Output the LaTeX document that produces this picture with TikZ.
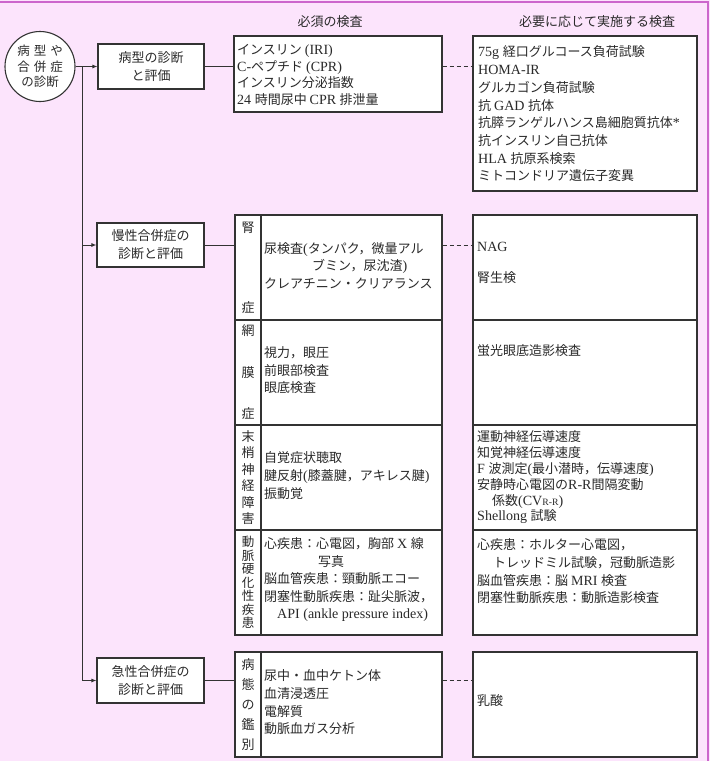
\documentclass[tikz,border=0pt]{standalone}
\usepackage{fontspec}
\setmainfont[Scale=1.08]{Liberation Serif}
\newfontfamily\cjkfont{Noto Sans CJK JP}
\usetikzlibrary{arrows.meta,calc}
\XeTeXinterchartokenstate=1
\newXeTeXintercharclass\CJKcls
\newcount\cjkc
\def\cjkrange#1#2{\cjkc=#1\relax\loop\XeTeXcharclass\cjkc=\CJKcls\advance\cjkc by 1\relax\ifnum\cjkc<#2\repeat}
\cjkrange{"3000}{"3100}
\cjkrange{"4E00}{"A000}
\cjkrange{"FF00}{"FFF0}
\XeTeXinterchartoks 0 \CJKcls = {\cjkfont}
\XeTeXinterchartoks 4095 \CJKcls = {\cjkfont}
\XeTeXinterchartoks \CJKcls 0 = {\rmfamily}
\XeTeXinterchartoks 4095 0 = {\rmfamily}
\definecolor{bgpink}{HTML}{FCE4FC}
\definecolor{framec}{HTML}{CC66CC}
\definecolor{lnc}{HTML}{333333}
\definecolor{txtc}{HTML}{2A2A2A}
\begin{document}
\begin{tikzpicture}[x=1pt,y=-1pt,
  every node/.style={text=txtc},
  bx/.style={draw=lnc,line width=1.1pt,fill=white,rectangle,inner sep=0pt},
  lbl/.style={bx,align=center,minimum width=26pt,minimum height=105pt},
  tx/.style={anchor=west,align=left,inner sep=0pt,font=\fontsize{13}{17.5}\selectfont},
  hd/.style={inner sep=0pt,font=\fontsize{13}{17.5}\selectfont},
  arr/.style={draw=lnc,line width=1pt,-{Latex[length=5pt,width=4pt]}},
  con/.style={draw=lnc,line width=1pt},
  dsh/.style={draw=lnc,line width=1pt,dash pattern=on 4pt off 3pt},
]
\useasboundingbox (0,0) rectangle (710,761);
\fill[bgpink] (0,0) rectangle (710,761);
\draw[framec,line width=2pt] (0,1.5) -- (707.5,1.5) -- (707.5,761);

% headers
\node[hd] (h1) at (330,22) {必須の検査};
\node[hd] (h2) at (597,22) {必要に応じて実施する検査};

% start circle
\node[circle,draw=lnc,line width=1.1pt,fill=white,minimum size=70pt,inner sep=0pt,align=center,font=\fontsize{12.5}{15.5}\selectfont] (circ) at (40,66.5) {病\hspace{4pt}型\hspace{4pt}や\\合\hspace{4pt}併\hspace{4pt}症\\の診断};

% left boxes
\node[bx,minimum width=106pt,minimum height=45pt,align=center,font=\fontsize{13}{18}\selectfont] (b1) at (151,66.5) {病型の診断\\と評価};
\node[bx,minimum width=107pt,minimum height=44pt,align=center,font=\fontsize{13}{18}\selectfont] (b2) at (150.5,245) {慢性合併症の\\診断と評価};
\node[bx,minimum width=107pt,minimum height=45pt,align=center,font=\fontsize{13}{18}\selectfont] (b3) at (150.5,680.5) {急性合併症の\\診断と評価};

% mandatory box (diagnosis)
\node[bx,minimum width=208pt,minimum height=76pt] (m1) at (338,74) {};
\node[tx,font=\fontsize{13}{16.7}\selectfont] (tm1) at (237,75) {インスリン (IRI)\\C-ペプチド (CPR)\\インスリン分泌指数\\24 時間尿中 CPR 排泄量};

% optional box (diagnosis)
\node[bx,minimum width=224pt,minimum height=155pt] (o1) at (585,113.5) {};
\node[tx,font=\fontsize{13}{17.7}\selectfont] (to1) at (478,114) {75g 経口グルコース負荷試験\\HOMA-IR\\グルカゴン負荷試験\\抗 GAD 抗体\\抗膵ランゲルハンス島細胞質抗体*\\抗インスリン自己抗体\\HLA 抗原系検索\\ミトコンドリア遺伝子変異};

% chronic complications table: label cells
\node[lbl,font=\fontsize{13}{80}\selectfont] (L1) at (248,267.5) {腎\\症};
\node[lbl,font=\fontsize{13}{41.5}\selectfont] (L2) at (248,372.5) {網\\膜\\症};
\node[lbl,font=\fontsize{13}{16.4}\selectfont] (L3) at (248,477.5) {末\\梢\\神\\経\\障\\害};
\node[lbl,font=\fontsize{12.5}{13.5}\selectfont] (L4) at (248,582.5) {動\\脈\\硬\\化\\性\\疾\\患};
\node[lbl,font=\fontsize{13}{20.2}\selectfont] (L5) at (248,704.5) {病\\態\\の\\鑑\\別};

% content cells
\node[bx,minimum width=181pt,minimum height=105pt] (C1) at (351.5,267.5) {};
\node[bx,minimum width=181pt,minimum height=105pt] (C2) at (351.5,372.5) {};
\node[bx,minimum width=181pt,minimum height=105pt] (C3) at (351.5,477.5) {};
\node[bx,minimum width=181pt,minimum height=105pt] (C4) at (351.5,582.5) {};
\node[bx,minimum width=181pt,minimum height=105pt] (C5) at (351.5,704.5) {};

\node[tx] (tc1) at (264,265.5) {尿検査(タンパク，微量アル\\\hspace*{48pt}ブミン，尿沈渣)\\クレアチニン・クリアランス};
\node[tx] (tc2) at (264,370.5) {視力，眼圧\\前眼部検査\\眼底検査};
\node[tx,font=\fontsize{13}{18}\selectfont] (tc3) at (264,476) {自覚症状聴取\\腱反射(膝蓋腱，アキレス腱)\\振動覚};
\node[tx] (tc4) at (264,580) {心疾患：心電図，胸部 X 線\\\hspace*{54pt}写真\\脳血管疾患：頸動脈エコー\\閉塞性動脈疾患：趾尖脈波，\\\hspace*{13pt}API (ankle pressure index)};
\node[tx,font=\fontsize{13}{17.7}\selectfont] (tc5) at (264,702.5) {尿中・血中ケトン体\\血清浸透圧\\電解質\\動脈血ガス分析};

% optional cells
\node[bx,minimum width=224pt,minimum height=105pt] (R1) at (585,267.5) {};
\node[bx,minimum width=224pt,minimum height=105pt] (R2) at (585,372.5) {};
\node[bx,minimum width=224pt,minimum height=105pt] (R3) at (585,477.5) {};
\node[bx,minimum width=224pt,minimum height=105pt] (R4) at (585,582.5) {};
\node[bx,minimum width=224pt,minimum height=105pt] (R5) at (585,704.5) {};

\node[tx,font=\fontsize{13}{31}\selectfont] (tr1) at (477,262.5) {NAG\\腎生検};
\node[tx] (tr2) at (477,351) {蛍光眼底造影検査};
\node[tx,font=\fontsize{13}{15.8}\selectfont] (tr3) at (477,477.5) {運動神経伝導速度\\知覚神経伝導速度\\F 波測定(最小潜時，伝導速度)\\安静時心電図のR-R間隔変動\\\hspace*{15pt}係数(CV{\fontsize{9}{10}\selectfont R-R})\\Shellong 試験};
\node[tx,font=\fontsize{13}{17.7}\selectfont] (tr4) at (477,571.5) {心疾患：ホルター心電図，\\\hspace*{16pt}トレッドミル試験，冠動脈造影\\脳血管疾患：脳 MRI 検査\\閉塞性動脈疾患：動脈造影検査};
\node[tx] (tr5) at (477,701) {乳酸};

% connectors
\coordinate (j1) at (82,66.5);
\draw[con] (circ.east) -- (j1);
\draw[arr] (j1) -- (b1.west);
\draw[arr] (j1) |- (b2.west);
\draw[arr] (j1) |- (b3.west);
\draw[con] (b1.east) -- (b1.east -| m1.west);
\draw[dsh] (b1.east -| m1.east) -- (b1.east -| o1.west);
\draw[con] (b2.east) -- (b2.east -| L1.west);
\draw[dsh] (b2.east -| C1.east) -- (b2.east -| R1.west);
\draw[con] (b3.east) -- (b3.east -| L5.west);
\draw[dsh] (b3.east -| C5.east) -- (b3.east -| R5.west);
\end{tikzpicture}
\end{document}
